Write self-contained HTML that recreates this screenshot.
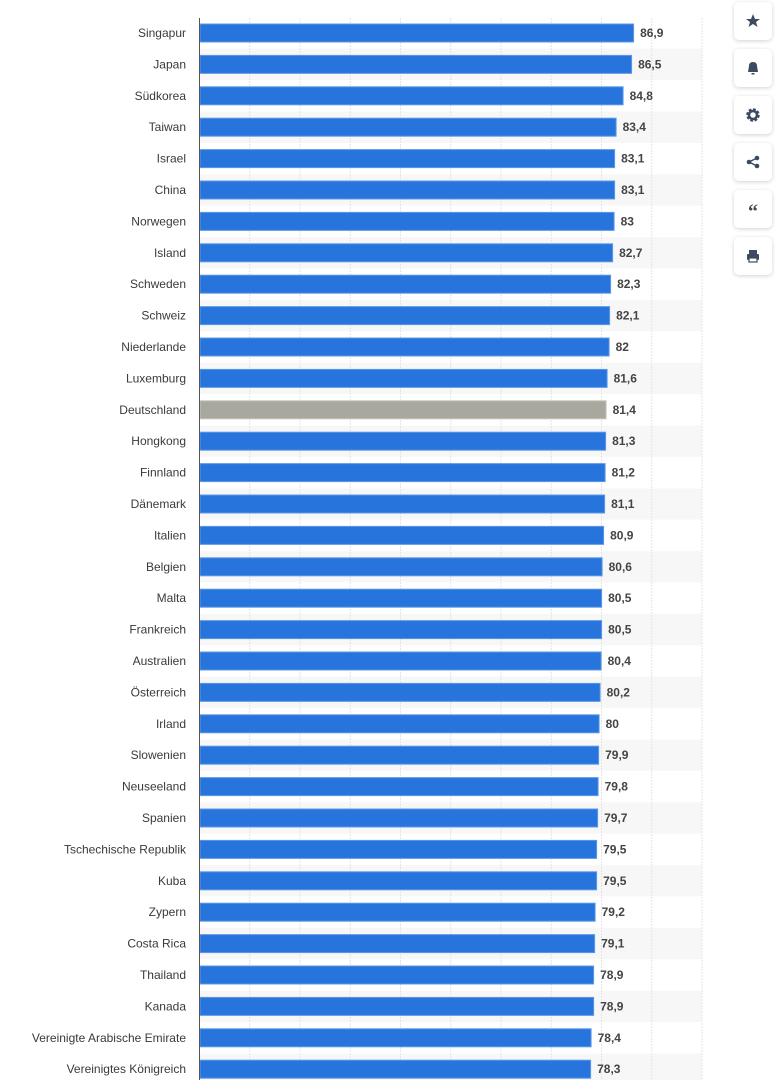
<!DOCTYPE html>
<html><head><meta charset="utf-8"><style>
body{margin:0;background:#fff;width:777px;height:1080px;overflow:hidden;font-family:"Liberation Sans",sans-serif}
.btn{position:absolute;left:734px;width:38px;height:38px;background:#fff;border-radius:5px;box-shadow:0 1px 4px rgba(0,0,0,.18)}
</style></head><body>
<svg width="777" height="1080" style="position:absolute;left:0;top:0" id="s"></svg>
<div class="btn" style="top:2px"><svg width="38" height="38"><polygon points="19,12 21,17 26,17 22,20 23.5,25 19,22 14.5,25 16,20 12,17 17,17" fill="#3d4b60"/></svg></div>
<div class="btn" style="top:49px"><svg width="38" height="38"><path d="M14,23 L15,17 Q15,13 19,13 Q23,13 23,17 L24,23 Z" fill="#3d4b60"/><rect x="17.5" y="24" width="3" height="1.5" fill="#3d4b60"/></svg></div>
<div class="btn" style="top:96px"><svg width="38" height="38"><circle cx="19" cy="19" r="5" fill="none" stroke="#3d4b60" stroke-width="3.5" stroke-dasharray="2.5 1.4"/><circle cx="19" cy="19" r="4" fill="none" stroke="#3d4b60" stroke-width="2.5"/></svg></div>
<div class="btn" style="top:143px"><svg width="38" height="38"><circle cx="23" cy="15" r="2.3" fill="#3d4b60"/><circle cx="15" cy="19" r="2.3" fill="#3d4b60"/><circle cx="23" cy="23" r="2.3" fill="#3d4b60"/><path d="M23,15 L15,19 L23,23" stroke="#3d4b60" stroke-width="1.5" fill="none"/></svg></div>
<div class="btn" style="top:190px"><svg width="38" height="38"><text x="19" y="28" text-anchor="middle" font-size="20" font-weight="bold" fill="#3d4b60" font-family="Liberation Serif">“</text></svg></div>
<div class="btn" style="top:237px"><svg width="38" height="38"><rect x="15" y="13" width="8" height="4" fill="#3d4b60"/><rect x="13" y="17" width="12" height="6" rx="1" fill="#3d4b60"/><rect x="15" y="21" width="8" height="4" fill="#fff" stroke="#3d4b60" stroke-width="1.2"/></svg></div>
<script>
const d=[["Singapur",86.9],["Japan",86.5],["Südkorea",84.8],["Taiwan",83.4],["Israel",83.1],["China",83.1],["Norwegen",83],["Island",82.7],["Schweden",82.3],["Schweiz",82.1],["Niederlande",82],["Luxemburg",81.6],["Deutschland",81.4],["Hongkong",81.3],["Finnland",81.2],["Dänemark",81.1],["Italien",80.9],["Belgien",80.6],["Malta",80.5],["Frankreich",80.5],["Australien",80.4],["Österreich",80.2],["Irland",80],["Slowenien",79.9],["Neuseeland",79.8],["Spanien",79.7],["Tschechische Republik",79.5],["Kuba",79.5],["Zypern",79.2],["Costa Rica",79.1],["Thailand",78.9],["Kanada",78.9],["Vereinigte Arabische Emirate",78.4],["Vereinigtes Königreich",78.3]];
let h='';const p=31.4,x0=199.5,sc=4.995;
d.forEach((r,i)=>{const c=33+i*p;if(i%2)h+=`<rect x="200" y="${c-p/2}" width="502" height="${p}" fill="#f7f7f7"/>`;});
for(let k=1;k<=10;k++){const x=x0+k*50.25;h+=`<line x1="${x}" y1="18" x2="${x}" y2="1080" stroke="#e4e4e4" stroke-dasharray="2 1"/>`;}
d.forEach((r,i)=>{const c=33+i*p,w=r[1]*sc,g=r[0]=="Deutschland";
h+=`<rect x="200" y="${c-9}" width="${w-0.5}" height="18" fill="${g?'#a8a89f':'#2775dc'}" stroke="${g?'#c4c4bc':'#5c98e8'}" stroke-width="1"/>`;
h+=`<text x="186" y="${c+4}" text-anchor="end" font-size="12" fill="#3a3a3a">${r[0]}</text>`;
h+=`<text x="${200+w+6}" y="${c+4}" font-size="12" font-weight="bold" fill="#444">${String(r[1]).replace('.',',')}</text>`;});
h+=`<line x1="199.5" y1="18" x2="199.5" y2="1080" stroke="#555" stroke-width="1"/>`;
document.getElementById('s').innerHTML=h;
</script>
</body></html>
